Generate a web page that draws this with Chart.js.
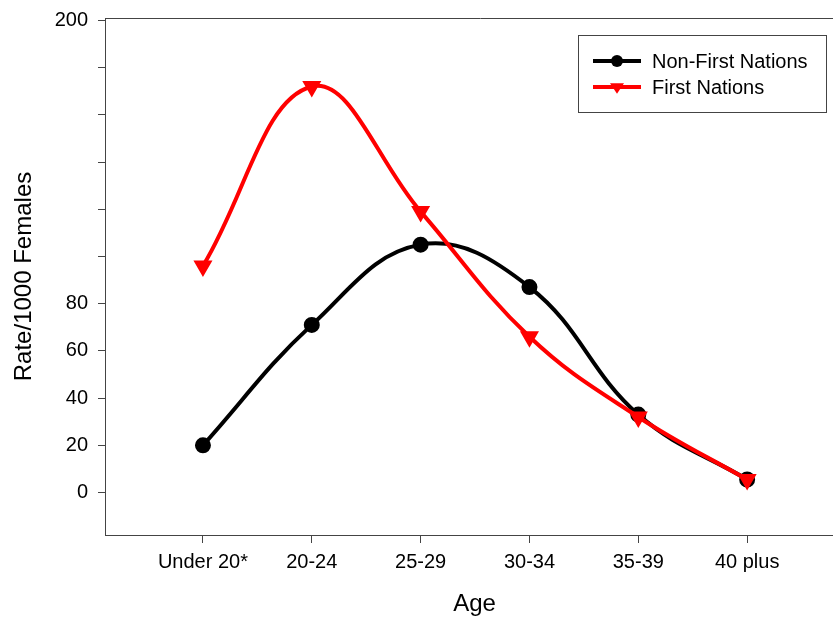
<!DOCTYPE html>
<html>
<head>
<meta charset="utf-8">
<script src="https://cdn.jsdelivr.net/npm/chart.js@4.4.0/dist/chart.umd.min.js"></script>
<style>
  html, body { margin: 0; padding: 0; background: #fff; overflow: hidden; }
  #wrap { width: 855px; height: 619px; }
</style>
</head>
<body>
<div id="wrap"><canvas id="chart" width="855" height="619"></canvas></div>
<script>
// values
const ageGroups = ['Under 20*', '20-24', '25-29', '30-34', '35-39', '40 plus'];
const nonFirstNations = [20, 71, 105, 87, 33, 5.5];
const firstNations = [96, 172, 119, 66, 32, 5.5];
const yTicks = [0, 20, 40, 60, 80, 100, 120, 140, 160, 180, 200];
const yLabelled = [0, 20, 40, 60, 80, 200];

const FONT = '"Liberation Sans", Arial, sans-serif';
const AXIS = '#444';

function toPoints(vals) {
  return vals.map((v, i) => ({ x: i + 1, y: v }));
}

// frame top line + boxed legend with line/marker samples
const framePlugin = {
  id: 'frame',
  afterDraw(chart) {
    const ctx = chart.ctx;
    const a = chart.chartArea;
    ctx.save();
    ctx.strokeStyle = AXIS;
    ctx.lineWidth = 1;
    ctx.beginPath();
    ctx.moveTo(a.left, a.top + 0.5);
    ctx.lineTo(a.right + 20, a.top + 0.5);
    ctx.stroke();

    // legend box
    const bx = 578, by = 35, bw = 248, bh = 77;
    ctx.fillStyle = '#fff';
    ctx.fillRect(bx, by, bw, bh);
    ctx.strokeRect(bx + 0.5, by + 0.5, bw, bh);

    [0, 1].forEach((di, row) => {
      const ds = chart.data.datasets[di];
      const y = 61 + row * 26;
      ctx.strokeStyle = ds.borderColor;
      ctx.lineWidth = 4;
      ctx.beginPath();
      ctx.moveTo(593, y);
      ctx.lineTo(641, y);
      ctx.stroke();
      ctx.fillStyle = ds.pointBackgroundColor;
      const cx = 617;
      if (ds.pointStyle === 'circle') {
        ctx.beginPath();
        ctx.arc(cx, y, ds.pointRadius, 0, Math.PI * 2);
        ctx.fill();
      } else {
        const r = ds.pointRadius;
        ctx.beginPath();
        ctx.moveTo(cx - r, y - r * 0.55);
        ctx.lineTo(cx + r, y - r * 0.55);
        ctx.lineTo(cx, y + r * 0.95);
        ctx.closePath();
        ctx.fill();
      }
      ctx.fillStyle = '#000';
      ctx.font = '20px ' + FONT;
      ctx.textBaseline = 'middle';
      ctx.textAlign = 'left';
      ctx.fillText(ds.label, 652, y + 1);
    });
    ctx.restore();
  }
};

new Chart(document.getElementById('chart'), {
  type: 'line',
  data: {
    datasets: [
      {
        label: 'Non-First Nations',
        data: toPoints(nonFirstNations),
        borderColor: '#000000',
        backgroundColor: '#000000',
        pointBackgroundColor: '#000000',
        pointBorderColor: '#000000',
        pointStyle: 'circle',
        pointRadius: 6,
        borderWidth: 4,
        tension: 0.4,
        order: 1
      },
      {
        label: 'First Nations',
        data: toPoints(firstNations),
        borderColor: '#ff0000',
        backgroundColor: '#ff0000',
        pointBackgroundColor: '#ff0000',
        pointBorderColor: '#ff0000',
        pointStyle: 'triangle',
        pointRotation: 180,
        pointRadius: 7,
        borderWidth: 4,
        tension: 0.4,
        order: 0
      }
    ]
  },
  options: {
    responsive: false,
    animation: false,
    layout: { padding: { top: 18, left: 0, right: 0, bottom: 0 } },
    plugins: {
      legend: { display: false },
      tooltip: { enabled: false }
    },
    scales: {
      x: {
        type: 'linear',
        min: 0.1,
        max: 6.89,
        afterBuildTicks: s => { s.ticks = ageGroups.map((_, i) => ({ value: i + 1 })); },
        afterFit: s => { s.height = 84; },
        ticks: {
          autoSkip: false,
          maxRotation: 0,
          padding: 7,
          color: '#000',
          font: { family: FONT, size: 20 },
          callback: v => ageGroups[v - 1]
        },
        grid: { display: true, drawOnChartArea: false, tickLength: 8, color: AXIS },
        border: { display: true, color: AXIS, width: 1 },
        title: {
          display: true,
          text: 'Age',
          color: '#000',
          font: { family: FONT, size: 24 },
          padding: { top: 0, bottom: 0 }
        }
      },
      y: {
        min: -18,
        max: 201,
        afterBuildTicks: s => { s.ticks = yTicks.map(v => ({ value: v })); },
        afterFit: s => { s.width = 105; s.paddingTop = 0; s.paddingBottom = 0; },
        ticks: {
          padding: 10,
          color: '#000',
          font: { family: FONT, size: 20 },
          callback: v => (yLabelled.includes(v) ? String(v) : '')
        },
        grid: { display: true, drawOnChartArea: false, tickLength: 7, color: AXIS },
        border: { display: true, color: AXIS, width: 1 },
        title: {
          display: true,
          text: 'Rate/1000 Females',
          color: '#000',
          font: { family: FONT, size: 24 },
          padding: { top: 10, bottom: 0 }
        }
      }
    }
  },
  plugins: [framePlugin]
});
</script>
</body>
</html>
